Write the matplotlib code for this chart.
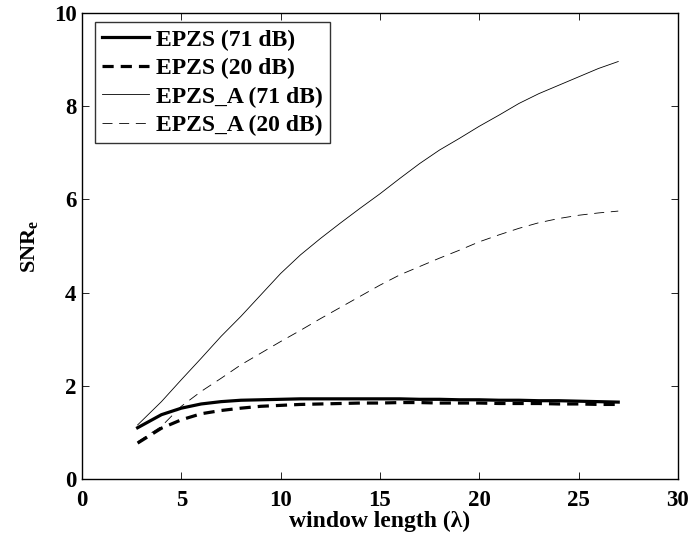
import matplotlib
matplotlib.use("Agg")
import matplotlib.pyplot as plt

plt.rcParams['font.family'] = ['Liberation Serif', 'DejaVu Serif']
plt.rcParams['font.weight'] = 'bold'
plt.rcParams['mathtext.fontset'] = 'custom'
plt.rcParams['mathtext.rm'] = 'Liberation Serif:bold'
plt.rcParams['mathtext.bf'] = 'Liberation Serif:bold'
plt.rcParams['mathtext.it'] = 'Liberation Serif:bold'

x = [2.8, 4, 5, 6, 7, 8, 9, 10, 11, 12, 13, 14, 15, 16, 17, 18, 19, 20,
     21, 22, 23, 24, 25, 26, 27]

epzs_71 = [1.10, 1.38, 1.52, 1.61, 1.66, 1.69, 1.70, 1.71, 1.72, 1.72, 1.72, 1.72,
           1.72, 1.72, 1.71, 1.71, 1.70, 1.70, 1.69, 1.69, 1.68, 1.68, 1.67, 1.66, 1.65]
epzs_20 = [0.77, 1.09, 1.27, 1.40, 1.47, 1.52, 1.56, 1.58, 1.60, 1.61, 1.62, 1.63,
           1.63, 1.64, 1.64, 1.63, 1.63, 1.63, 1.62, 1.62, 1.62, 1.61, 1.61, 1.60, 1.60]
epzsa_71 = [1.16, 1.66, 2.13, 2.59, 3.06, 3.49, 3.95, 4.41, 4.81, 5.16, 5.49, 5.81,
            6.12, 6.45, 6.77, 7.06, 7.31, 7.57, 7.81, 8.06, 8.27, 8.45, 8.63, 8.81, 8.96]
epzsa_20 = [0.80, 1.13, 1.56, 1.88, 2.16, 2.45, 2.70, 2.95, 3.19, 3.44, 3.68, 3.92,
            4.16, 4.38, 4.56, 4.74, 4.91, 5.09, 5.24, 5.38, 5.50, 5.59, 5.66, 5.71, 5.75]

fig = plt.figure(figsize=(6.92, 5.38), dpi=100)
ax = fig.add_axes([0.1185, 0.1097, 0.861, 0.866])

ax.plot(x, epzs_71, color='black', lw=2.3, label='EPZS (71 dB)')
ax.plot(x, epzs_20, color='black', lw=2.3, dashes=(3.5, 2.2), label='EPZS (20 dB)')
ax.plot(x, epzsa_71, color='black', lw=0.6, label='EPZS_A (71 dB)')
ax.plot(x, epzsa_20, color='black', lw=0.6, dashes=(12, 8), label='EPZS_A (20 dB)')

ax.set_xlim(0, 30)
ax.set_ylim(0, 10)
ax.set_xticks([0, 5, 10, 15, 20, 25, 30])
ax.set_yticks([0, 2, 4, 6, 8, 10])
ax.tick_params(direction='in', top=True, right=True, labelsize=16.5, length=5, width=0.6)
ax.tick_params(axis='x', pad=8)
ax.tick_params(axis='y', pad=4)
for lbl in ax.get_xticklabels() + ax.get_yticklabels():
    lbl.set_fontweight('bold')
for s in ax.spines.values():
    s.set_linewidth(1.0)

ax.set_xlabel('window length (λ)', fontsize=17, fontweight='bold', labelpad=0)
ax.set_ylabel(r'$\mathrm{SNR_e}$', fontsize=16, labelpad=10)

leg = ax.legend(loc='upper left', bbox_to_anchor=(0.0218, 0.981),
                prop={'size': 17, 'weight': 'bold'}, frameon=True,
                fancybox=False, edgecolor='black', handlelength=2.0, handletextpad=0.3,
                borderpad=0.3, labelspacing=0.3, borderaxespad=0.0)
leg.get_frame().set_linewidth(1.0)

fig.savefig('out.png', dpi=100)
